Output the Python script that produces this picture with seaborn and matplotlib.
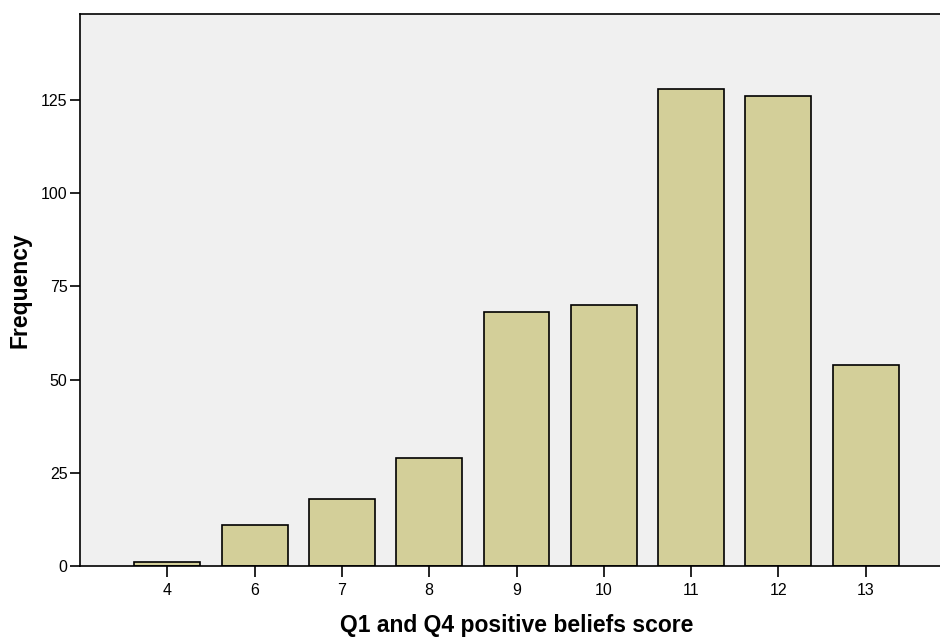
import numpy as np
import pandas as pd
import seaborn as sns
import matplotlib.pyplot as plt

scores = ['4', '6', '7', '8', '9', '10', '11', '12', '13']
frequency = [1, 11, 18, 29, 68, 70, 128, 126, 54]
yticks = [0, 25, 50, 75, 100, 125]

df = pd.DataFrame({'score': scores, 'freq': frequency})

sns.set_style('ticks')
plt.rcParams['font.family'] = ['Liberation Sans', 'DejaVu Sans']
plt.rcParams['text.color'] = 'black'
plt.rcParams['axes.labelcolor'] = 'black'
plt.rcParams['xtick.color'] = 'black'
plt.rcParams['ytick.color'] = 'black'

fig = plt.figure(figsize=(9.4, 6.37), dpi=100)
ax = fig.add_axes([80 / 940, 1 - 566 / 637, 873 / 940, 552 / 637])
ax.set_facecolor('#f0f0f0')

sns.barplot(data=df, x='score', y='freq', order=scores, color='#d3cf99',
            saturation=1, width=0.755, edgecolor='black', linewidth=1.2, ax=ax)

ax.set_xlim(-1, 9)
ax.set_ylim(0, 148)
ax.set_yticks(yticks)
ax.set_xlabel('Q1 and Q4 positive beliefs score', fontsize=16.5, fontweight='bold', labelpad=12)
ax.set_ylabel('Frequency', fontsize=16.5, fontweight='bold', labelpad=7)
ax.tick_params(axis='y', length=7, width=1.2, labelsize=11.5, pad=2)
ax.tick_params(axis='x', length=8, width=1.2, labelsize=11.5, pad=4)
for side in ['left', 'bottom', 'top', 'right']:
    ax.spines[side].set_visible(True)
    ax.spines[side].set_linewidth(1.2)
    ax.spines[side].set_color('black')

fig.savefig('out.png', dpi=100)
